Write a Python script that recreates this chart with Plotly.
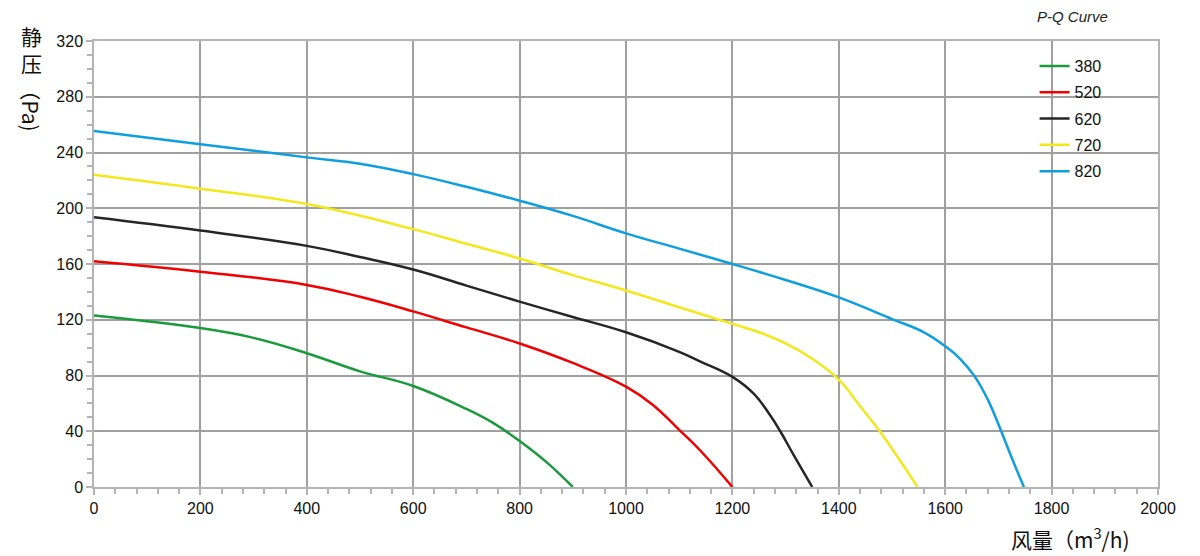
import plotly.graph_objects as go

names = ["380", "520", "620", "720", "820"]
colors = ["#1a9a3c", "#f00000", "#262626", "#f2e81c", "#0f9ede"]

q_380 = [0, 200, 300, 400, 500, 600, 700, 750, 800, 850, 900]
p_380 = [123, 114, 107, 96, 83, 72.5, 56, 46, 33, 18, 0]

q_520 = [0, 200, 400, 500, 600, 700, 800, 900, 1000, 1050, 1100, 1140, 1200]
p_520 = [162, 154.5, 145, 136.5, 126, 114.5, 103, 89, 72, 59, 41, 26, 0]

q_620 = [0, 200, 400, 500, 600, 700, 800, 900, 1000, 1100, 1140, 1200, 1240, 1270, 1290, 1315, 1350]
p_620 = [193.5, 184, 173, 165, 156, 144.5, 133, 122, 111, 97, 90, 79, 67, 52, 40, 23, 0]

q_720 = [0, 200, 400, 600, 700, 800, 900, 1000, 1100, 1200, 1250, 1300, 1350, 1400, 1440, 1477, 1515, 1548]
p_720 = [224, 214, 203, 185, 174.5, 164, 152, 141, 129, 117, 111, 103, 92, 77, 58, 40, 19, 0]

q_820 = [0, 200, 400, 500, 600, 700, 800, 900, 1000, 1100, 1200, 1300, 1400, 1500, 1560, 1600, 1628, 1656, 1681, 1700, 1725, 1748]
p_820 = [255.5, 246, 236.5, 232, 224.5, 215.4, 205.4, 194.5, 182, 171, 160, 148.5, 136, 120.5, 111, 101, 92, 79, 62, 45, 21, 0]

series_q = [q_380, q_520, q_620, q_720, q_820]
series_p = [p_380, p_520, p_620, p_720, p_820]

x_ticks = [0, 200, 400, 600, 800, 1000, 1200, 1400, 1600, 1800, 2000]
y_ticks = [0, 40, 80, 120, 160, 200, 240, 280, 320]

FONT = "Liberation Sans, Arial, Noto Sans CJK SC, sans-serif"
CJK = "Noto Sans CJK SC, Liberation Sans, sans-serif"

fig = go.Figure()
for i, (n, c, q, p) in enumerate(zip(names, colors, series_q, series_p)):
    fig.add_trace(go.Scatter(
        x=q, y=p, name=n, mode="lines",
        line=dict(color=c, width=2.5, shape="spline", smoothing=1.2),
        legendgroup=n,
    ))

axis_common = dict(
    showgrid=True, gridcolor="#a0a0a0", gridwidth=1.5,
    showline=True, linecolor="#b4b4b4", linewidth=1.5, mirror=True,
    ticks="outside", ticklen=6, tickcolor="#b4b4b4", tickwidth=1.5,
    zeroline=False,
    tickfont=dict(family=FONT, size=16, color="#111"),
)

fig.update_xaxes(range=[0, 2000], tickvals=x_ticks,
                 minor=dict(dtick=40, ticks="outside", ticklen=5, tickcolor="#b4b4b4", showgrid=False),
                 **axis_common)
fig.update_yaxes(range=[0, 320], tickvals=y_ticks,
                 minor=dict(dtick=10, ticks="outside", ticklen=5, tickcolor="#b4b4b4", showgrid=False),
                 **axis_common)

fig.update_layout(
    width=1200, height=556,
    margin=dict(l=94, r=42, t=41, b=69),
    paper_bgcolor="white", plot_bgcolor="white",
    showlegend=True,
    legend=dict(
        x=0.884, y=0.982, xanchor="left", yanchor="top",
        bgcolor="rgba(0,0,0,0)", borderwidth=0,
        font=dict(family=FONT, size=16, color="#111"),
        tracegroupgap=2.5, traceorder="grouped",
    ),
    annotations=[
        dict(text="<i>P-Q Curve</i>", x=0.920, y=1.054, xref="paper", yref="paper",
             showarrow=False, font=dict(family=FONT, size=15, color="#222"),
             xanchor="center", yanchor="middle"),
        dict(text="风量（m<sup>3</sup>/h)", x=0.918, y=-0.114, xref="paper", yref="paper",
             showarrow=False, font=dict(family=CJK, size=21, color="#111"),
             xanchor="center", yanchor="middle"),
        dict(text="静<br>压", x=-0.059, y=1.05, xref="paper", yref="paper",
             showarrow=False, font=dict(family=CJK, size=21, color="#111"),
             xanchor="center", yanchor="top"),
        dict(text="（Pa)", x=-0.059, y=0.855, xref="paper", yref="paper", textangle=90,
             showarrow=False, font=dict(family=CJK, size=21, color="#111"),
             xanchor="center", yanchor="middle"),
    ],
)

fig.write_html("out.html")
